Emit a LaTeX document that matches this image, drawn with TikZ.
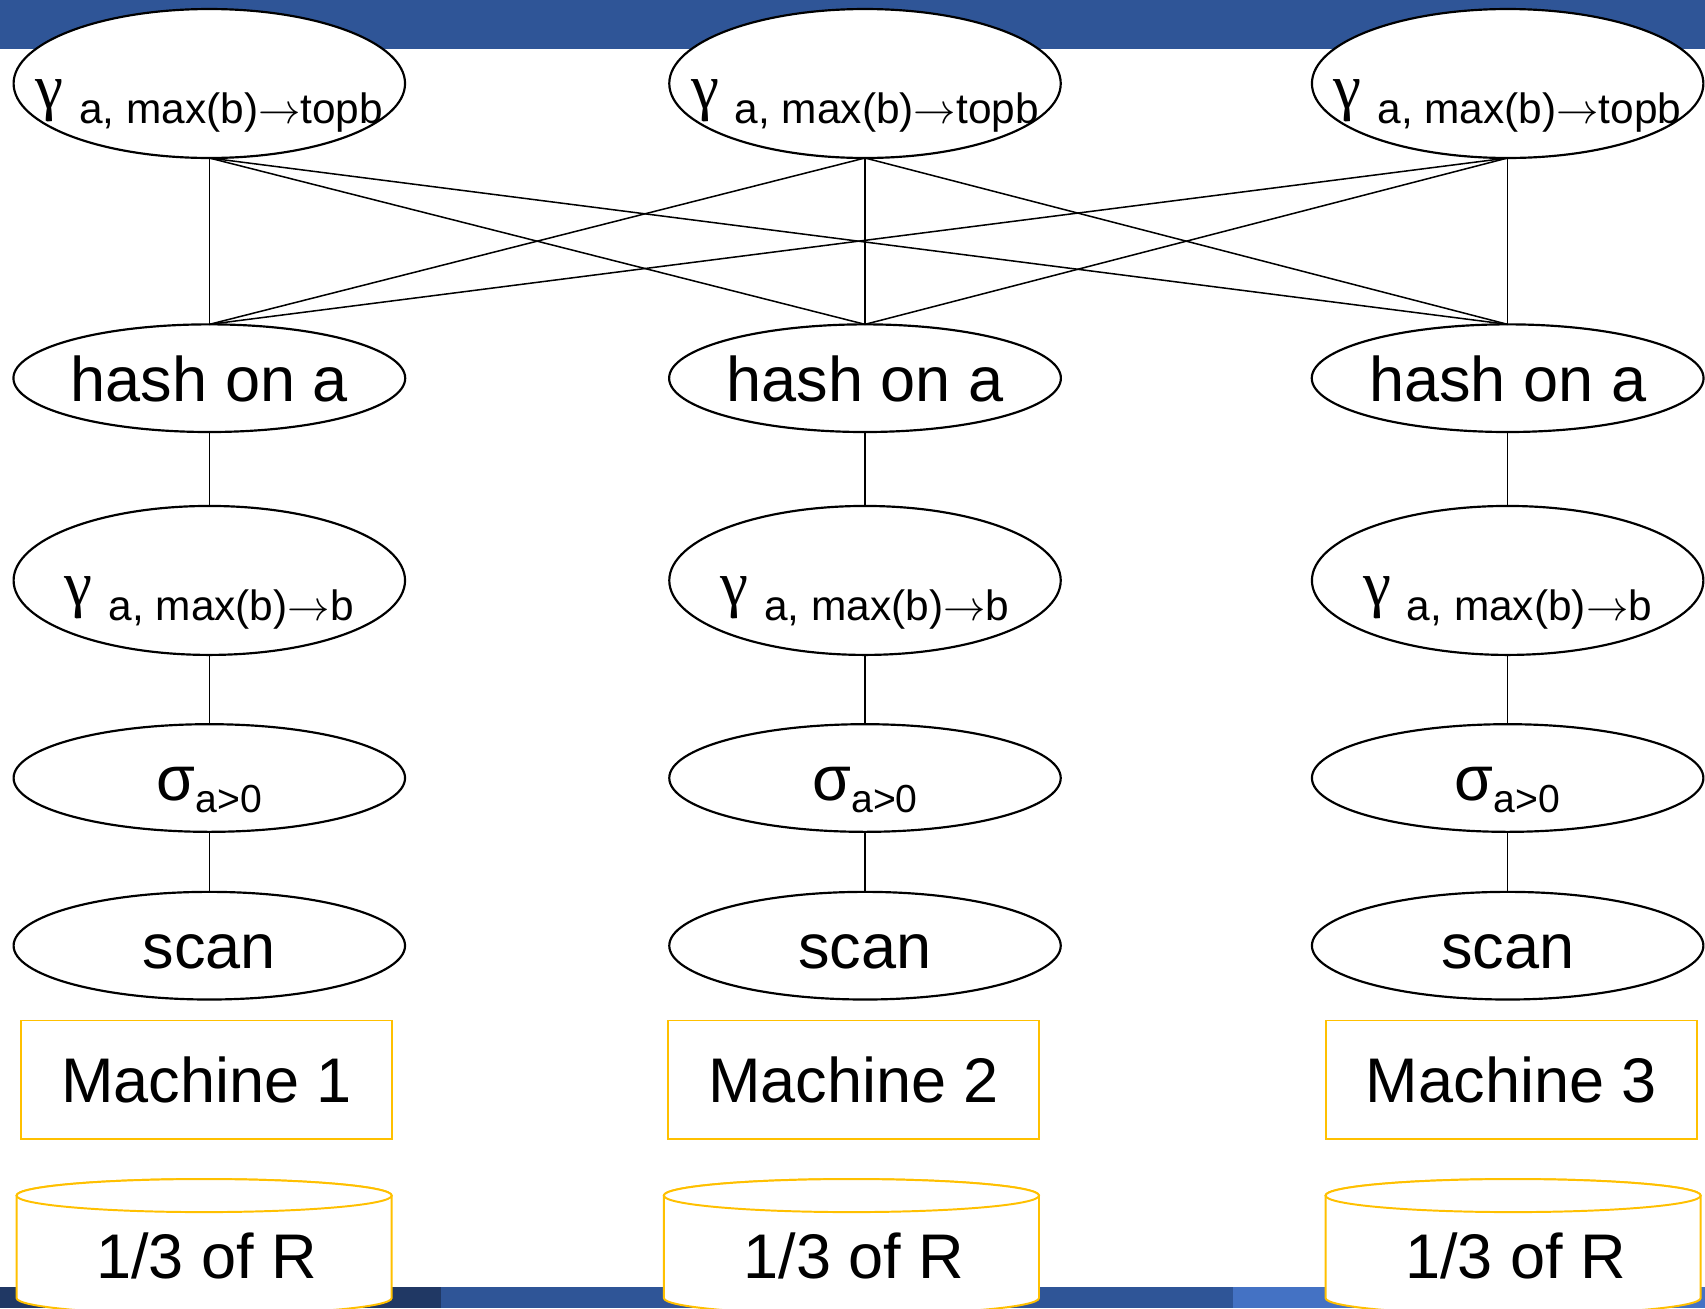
\documentclass[tikz,border=0pt]{standalone}
\usepackage{fix-cm}
\usepackage{fontspec}
\setmainfont{Liberation Sans}
\newfontfamily\gamfont{Liberation Serif}
\usepackage{xcolor}
\usepackage{tikz}
\usetikzlibrary{positioning,shapes.geometric}

\definecolor{barblue}{HTML}{2F5597}
\definecolor{barnavy}{HTML}{203864}
\definecolor{barlight}{HTML}{4472C4}
\definecolor{gold}{HTML}{FFC000}

% grouping operator label: serif gamma, lowered sans subscript
\newcommand{\aggtxt}[1]{\makebox[0pt]{\raisebox{-1.2pt}{{\gamfont γ }\raisebox{-6.9pt}{\fontsize{19.5pt}{22pt}\selectfont #1}}}}
\newcommand{\toarr}{${\rightarrow}$}
% selection operator label
\newcommand{\seltxt}[1]{σ\raisebox{-5.25pt}{\fontsize{18pt}{20pt}\selectfont #1}}

\begin{document}
\begin{tikzpicture}[
  x=0.5pt, y=-0.5pt,
  font=\fontsize{29pt}{33pt}\selectfont,
  op/.style={ellipse, draw, line width=1pt, fill=white, minimum width=180pt,
             inner sep=0pt, outer sep=0pt, text height=21pt, text depth=0pt},
  big/.style={op, minimum height=68.5pt},
  small/.style={op, minimum height=49.5pt},
  mach/.style={draw=gold, line width=0.9pt, fill=white, minimum width=170.5pt,
               minimum height=54.5pt, inner sep=0pt, outer sep=0pt,
               text height=21pt, text depth=0pt},
  disk/.style={draw=gold, line width=0.9pt, fill=white},
  txt/.style={inner sep=0pt, text height=21pt, text depth=0pt},
  link/.style={line width=0.7pt}
]
\useasboundingbox (0,0) rectangle (1568,1203);

% slide bars
\fill[barblue] (0,0) rectangle (1568,45.4);
\fill[barnavy] (0,1183.6) rectangle (405.5,1203);
\fill[barblue] (405.5,1183.6) rectangle (1134,1203);
\fill[barlight] (1134,1183.6) rectangle (1568,1203);

\foreach \i/\cx/\mx/\rx in {1/192.5/190/187.7, 2/795.5/785/783, 3/1386.5/1390/1391.5} {
  \node[big] (top\i) at (\cx,76.8) {\aggtxt{a, max(b)\toarr topb}};
  \node[small, below=76.5pt of top\i] (hash\i) {hash on a};
  \node[big, below=34pt of hash\i] (agg\i) {\aggtxt{a, max(b)\toarr b}};
  \node[small, below=31.85pt of agg\i] (sel\i) {\seltxt{a>0}};
  \node[small, below=27.6pt of sel\i] (scan\i) {scan};
  \node[mach] (mach\i) at (\mx,993) {Machine \i};
  % partition of R on this machine
  \draw[disk] (\rx-172.5,1099.5) -- (\rx-172.5,1193.7)
    arc[start angle=180, end angle=360, x radius=86.25pt, y radius=7.6pt]
    -- (\rx+172.5,1099.5)
    arc[start angle=0, end angle=180, x radius=86.25pt, y radius=7.6pt] -- cycle;
  \draw[disk] (\rx,1099.5) ellipse[x radius=86.25pt, y radius=7.6pt];
  \node[txt] (part\i) at (\rx+2.5,1154.5) {1/3 of R};
}

% every final group receives from every hash
\foreach \i in {1,2,3} {
  \foreach \j in {1,2,3}
    \draw[link] (top\i.south) -- (hash\j.north);
  \draw[link] (hash\i) -- (agg\i) (agg\i) -- (sel\i) (sel\i) -- (scan\i);
}
\end{tikzpicture}
\end{document}
